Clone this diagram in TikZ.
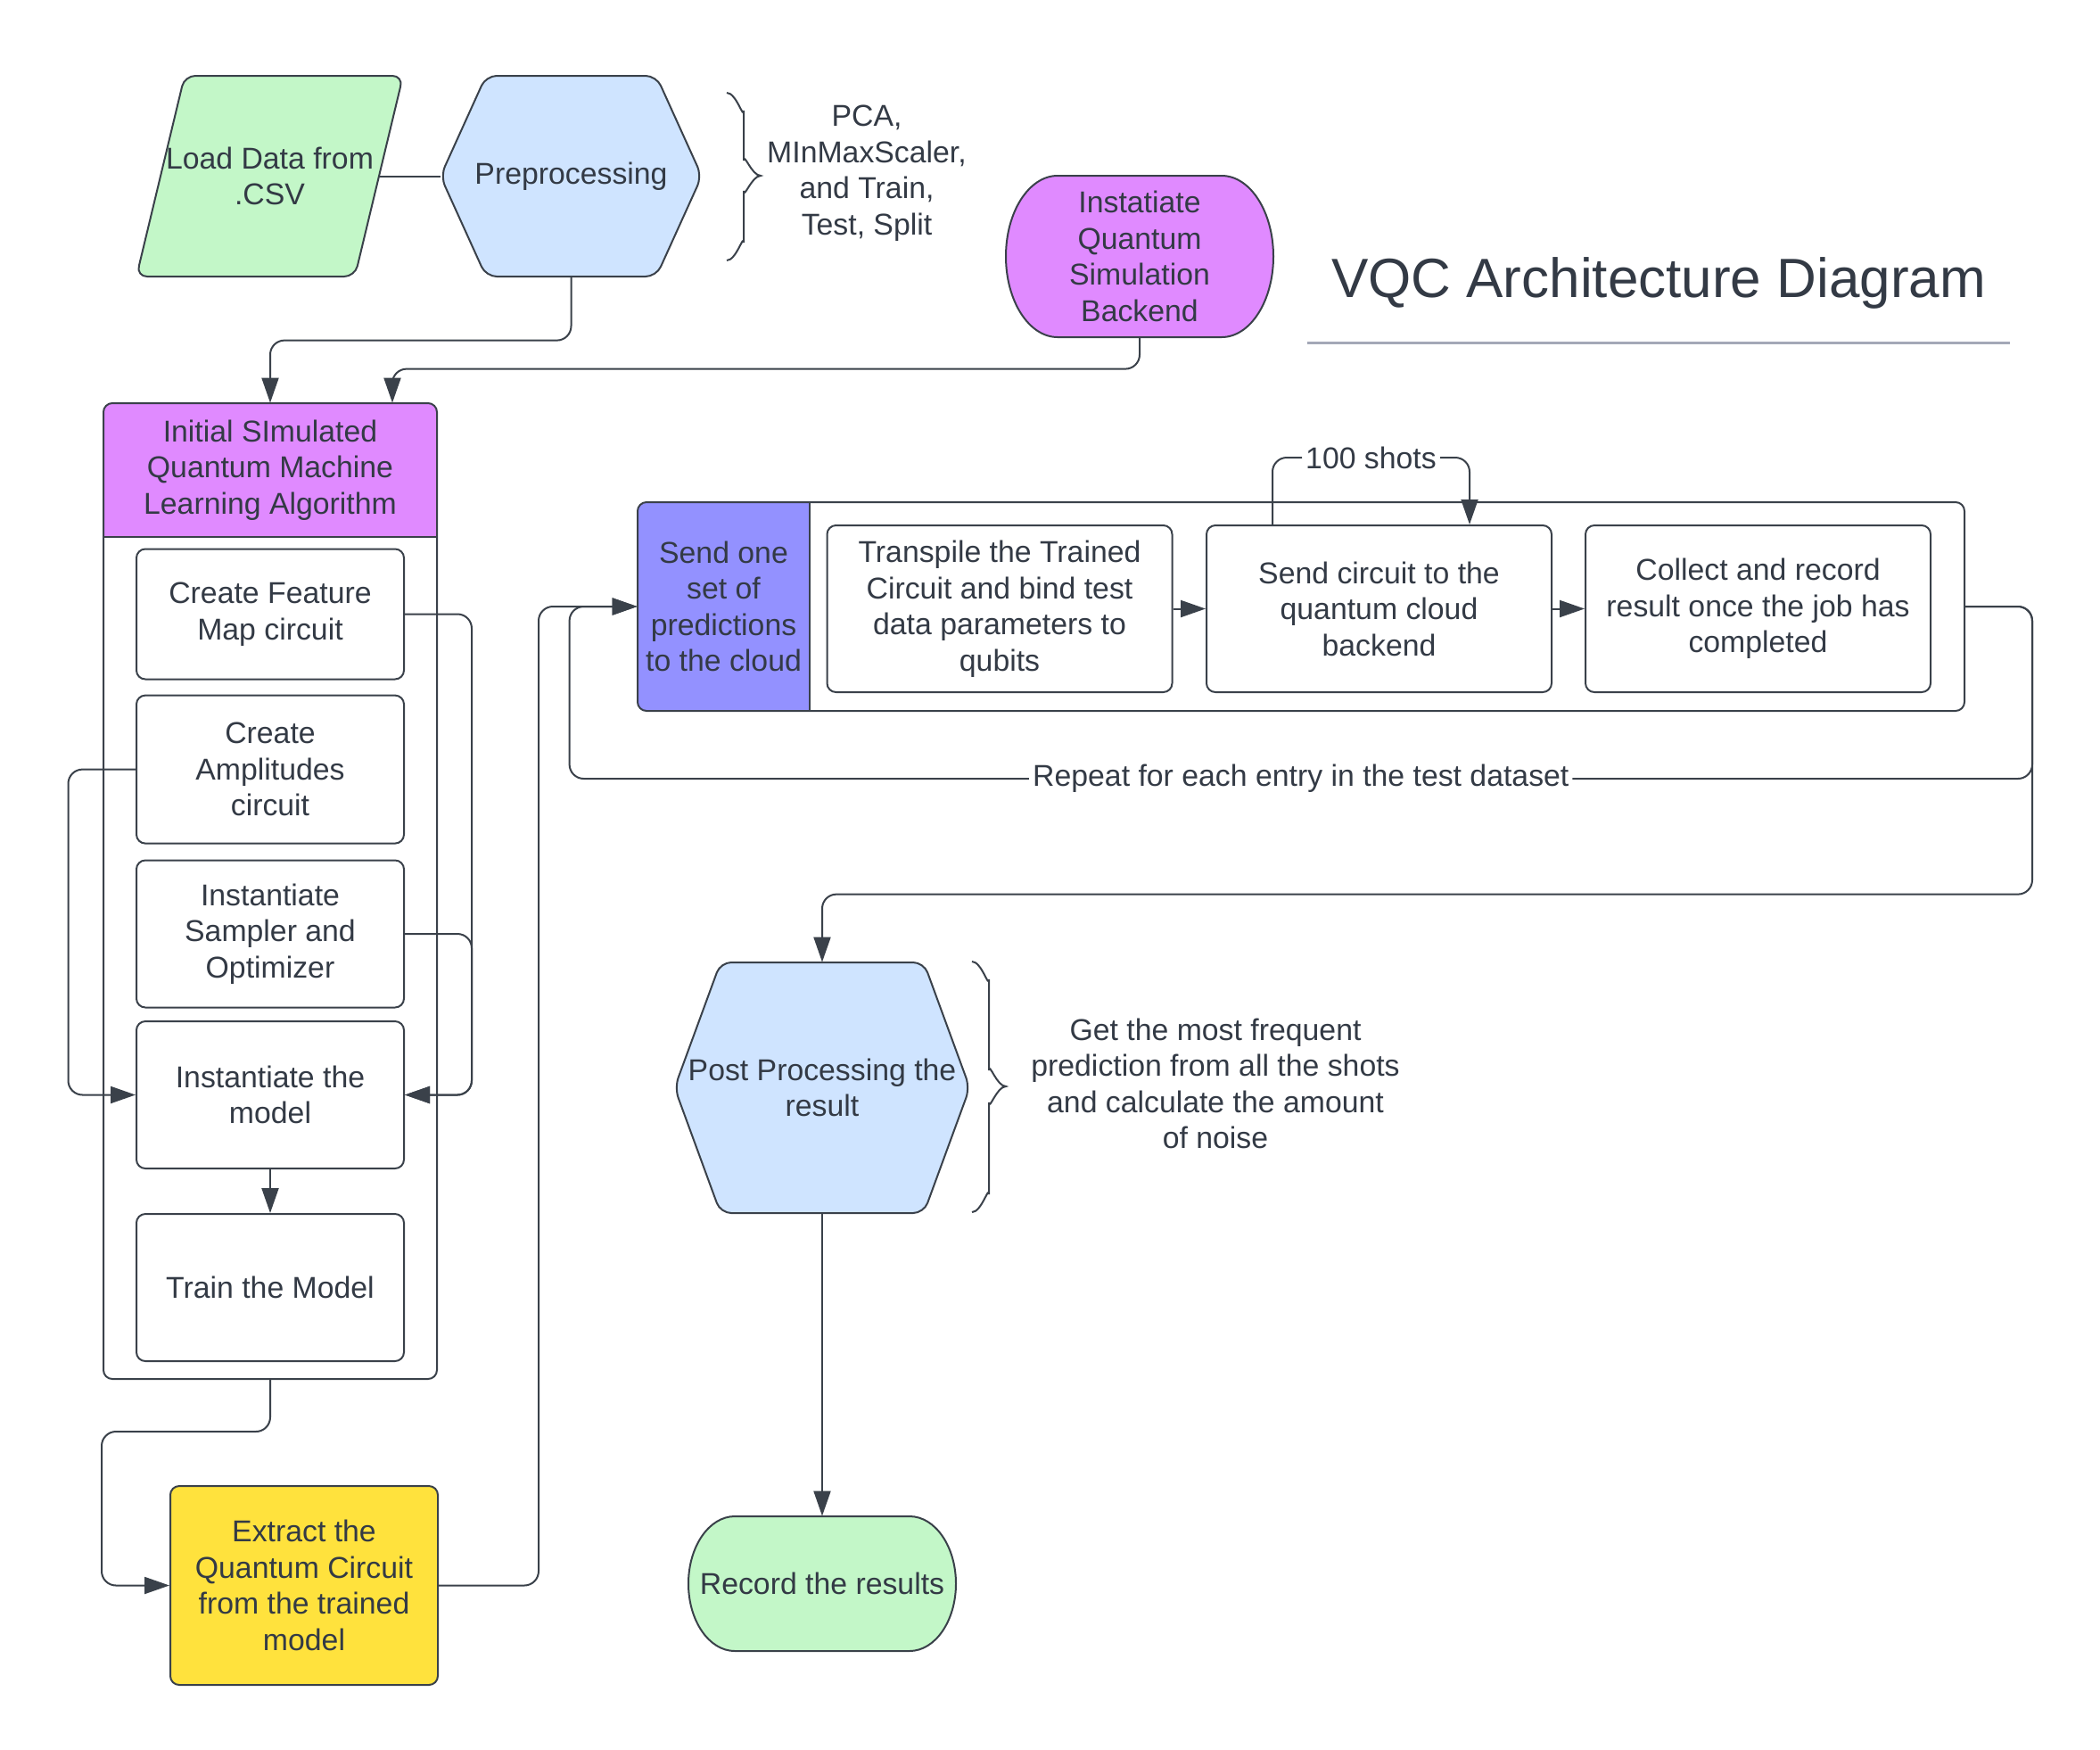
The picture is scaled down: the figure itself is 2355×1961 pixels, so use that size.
\documentclass[tikz,border=0pt]{standalone}
\usepackage{fontspec}
\setmainfont{Liberation Sans}
\usetikzlibrary{arrows.meta,calc}

\definecolor{linegray}{HTML}{3A414A}
\definecolor{textgray}{HTML}{333A45}
\definecolor{greenfill}{HTML}{C3F7C8}
\definecolor{bluefill}{HTML}{CFE4FF}
\definecolor{violetfill}{HTML}{E08AFF}
\definecolor{sendfill}{HTML}{9391FF}
\definecolor{yellowfill}{HTML}{FFE23D}
\definecolor{rulegray}{HTML}{A4A8B7}

\newcommand{\mainfnt}{\fontsize{16.9}{20.25}\selectfont}

\tikzset{
  line/.style={draw=linegray, line width=1pt},
  txt/.style={align=center, font=\mainfnt, text=textgray, inner sep=0pt},
  stepbox/.style={txt, line, rounded corners=5pt, fill=white, minimum width=150pt},
  flow/.style={line, ->, rounded corners=8pt},
}

\begin{document}
\begin{tikzpicture}[x=0.5pt, y=-0.5pt, >={Triangle[length=14pt,width=9.5pt]}]
\useasboundingbox (0,0) rectangle (2355,1961);

% Draw the data loading step
\draw[line, fill=greenfill, rounded corners=6pt] (207,85) -- (452,85) -- (398,310) -- (153,310) -- cycle;
\node[txt, minimum width=122.5pt, minimum height=112.5pt] (load) at (302.5,197.5) {Load Data from\\.CSV};

% Draw the preprocessing step
\draw[line, fill=bluefill, rounded corners=6pt] (494,197.5) -- (545,85) -- (736,85) -- (787,197.5) -- (736,310) -- (545,310) -- cycle;
\node[txt, minimum width=146.5pt, minimum height=112.5pt] (prep) at (640.5,197.5) {Preprocessing};
\draw[line] (load.east) -- (prep.west);

%% Note on the preprocessing
\draw[line] (815,104) to[out=0,in=-90] (834,124) -- (834,180) to[out=90,in=180] (853,197) to[out=180,in=-90] (834,214) -- (834,272) to[out=90,in=0] (815,292);
\node[txt] (pcanote) at (972,194) {PCA,\\MInMaxScaler,\\and Train,\\Test, Split};

% Draw the backend
\draw[line, fill=violetfill] (1186,197) -- (1370,197) arc[start angle=-90, end angle=90, x radius=58, y radius=90.5] -- (1186,378) arc[start angle=90, end angle=270, x radius=58, y radius=90.5] -- cycle;
\node[txt, minimum width=150pt, minimum height=90.5pt] (backend) at (1278,287.5) {Instatiate\\Quantum\\Simulation\\Backend};

% Draw the title
\node[txt, font=\fontsize{31}{36}\selectfont, anchor=base] (title) at (1860,333) {VQC Architecture Diagram};
\draw[rulegray, line width=1.5pt] (1466,384) -- (2254,384);

% Draw the algorithm container
\fill[violetfill] (116,602) [rounded corners=5pt] -- (116,452) -- (490,452) [sharp corners] -- (490,602) -- cycle;
\node[line, rounded corners=5pt, minimum width=187pt, minimum height=547pt] (algo) at (303,999) {};
\node[txt, minimum width=187pt, minimum height=75pt] (algohead) at (303,527) {Initial SImulated\\Quantum Machine\\Learning Algorithm};
\draw[line] (algohead.south west) -- (algohead.south east);

%% Steps inside the container
\node[stepbox, minimum height=73pt] (feat) at (303,688.5) {Create Feature\\Map circuit};
\node[stepbox, minimum height=83pt] (ampl) at (303,862.6) {Create\\Amplitudes\\circuit};
\node[stepbox, minimum height=82.5pt] (samp) at (303,1047) {Instantiate\\Sampler and\\Optimizer};
\node[stepbox, minimum height=82.5pt] (model) at (303,1227.5) {Instantiate the\\model};
\node[stepbox, minimum height=82.5pt] (train) at (303,1443.5) {Train the Model};

\draw[flow] (feat.east) -- ++(75,0) |- (model.east);
\draw[flow] (samp.east) -- ++(75,0) |- (model.east);
\draw[flow] (ampl.west) -- ++(-75.5,0) |- (model.west);
\draw[flow] (model) -- (train);

%% Inputs of the container
\draw[flow] (prep.south) |- ($(algohead.north)+(0,-70)$) -- (algohead.north);
\draw[flow] (backend.south) |- ($(algohead.north)+(137,-38)$) -- ($(algohead.north)+(137,0)$);

% Draw the extraction step
\node[stepbox, fill=yellowfill, minimum height=111.5pt] (extract) at (341,1777.5) {Extract the\\Quantum Circuit\\from the trained\\model};
\draw[flow] (algo.south) |- ($(extract.west)+(-76,-172.5)$) |- (extract.west);

% Draw the cloud group
\fill[sendfill] (908,563) [rounded corners=5pt] -- (715,563) -- (715,797) [sharp corners] -- (908,797) -- cycle;
\node[line, rounded corners=5pt, minimum width=744pt, minimum height=117pt] (group) at (1459,680) {};
\node[txt, minimum width=96.5pt, minimum height=117pt] (send) at (811.5,680) {Send one\\set of\\predictions\\to the cloud};
\draw[line] (send.north east) -- (send.south east);

\node[stepbox, minimum width=193.5pt, minimum height=93.5pt] (transp) at (1121,682.5) {Transpile the Trained\\Circuit and bind test\\data parameters to\\qubits};
\node[stepbox, minimum width=193.5pt, minimum height=93.5pt] (sendc) at (1546.5,682.5) {Send circuit to the\\quantum cloud\\backend};
\node[stepbox, minimum width=193.5pt, minimum height=93.5pt] (collect) at (1971.5,682.5) {Collect and record\\result once the job has\\completed};
\draw[flow] (transp) -- (sendc);
\draw[flow] (sendc) -- (collect);
\draw[flow] ($(sendc.north)+(-119.5,0)$) -- ++(0,-75) -| node[pos=0.25, txt, fill=white, inner sep=2pt] (shots) {100 shots} ($(sendc.north)+(101.5,0)$);

\draw[flow] (extract.east) -- ++(112,0) |- (send.west);

% Draw the post processing step
\draw[line, fill=bluefill, rounded corners=6pt] (756.5,1219.5) -- (808,1079) -- (1036,1079) -- (1087.5,1219.5) -- (1036,1360) -- (808,1360) -- cycle;
\node[txt, minimum width=165.5pt, minimum height=140.5pt] (post) at (922,1219.5) {Post Processing the\\result};

%% Note on the post processing
\draw[line] (1090,1078) to[out=0,in=-90] (1109,1098) -- (1109,1200) to[out=90,in=180] (1128,1218) to[out=180,in=-90] (1109,1236) -- (1109,1339) to[out=90,in=0] (1090,1359);
\node[txt] (postnote) at (1363,1215) {Get the most frequent\\prediction from all the shots\\and calculate the amount\\of noise};

%% Loops out of the group
\draw[flow] (group.east) -- ++(75,0) |- node[pos=0.75, txt, fill=white, inner sep=2pt] (repeat) {Repeat for each entry in the test dataset} ($(send.west)+(-76,193)$) |- (send.west);
\draw[flow] (group.east) -- ++(75,0) |- ($(post.north)+(0,-76)$) -- (post.north);

% Draw the result step
\draw[line, fill=greenfill] (824,1700) -- (1020,1700) arc[start angle=-90, end angle=90, x radius=52, y radius=75.5] -- (824,1851) arc[start angle=90, end angle=270, x radius=52, y radius=75.5] -- cycle;
\node[txt, minimum width=150pt, minimum height=75.5pt] (record) at (922,1775.5) {Record the results};
\draw[flow] (post.south) -- (record.north);

\end{tikzpicture}
\end{document}
